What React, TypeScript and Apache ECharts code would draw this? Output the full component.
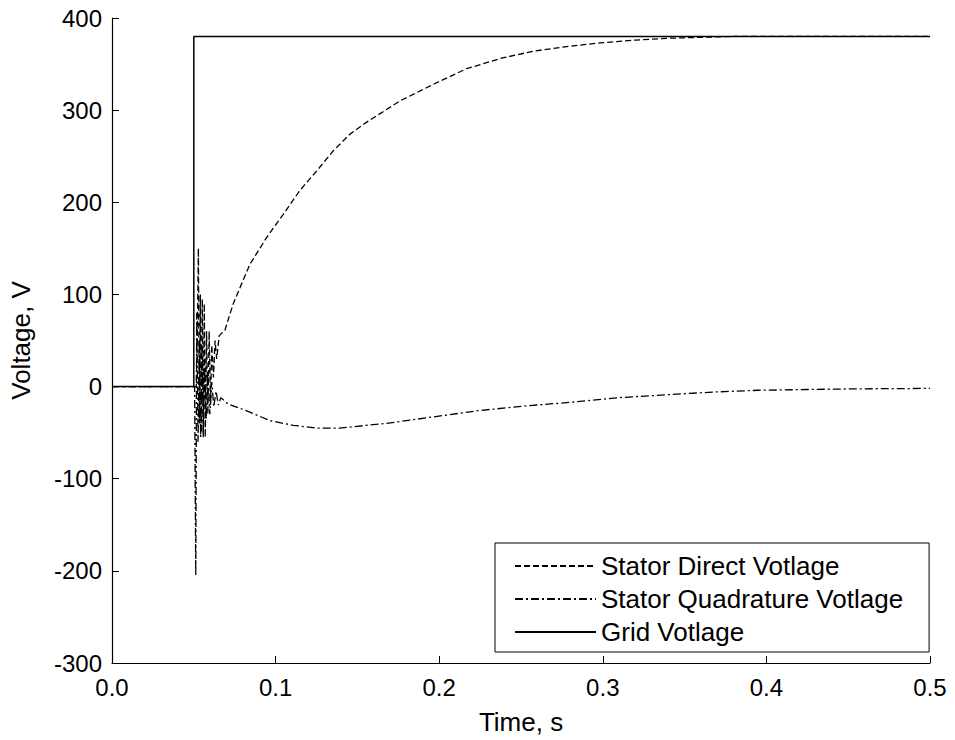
import React, { useEffect, useRef } from "react";
import * as echarts from "echarts";

const xTicks = [0, 0.1, 0.2, 0.3, 0.4, 0.5];
const yTicks = [-300, -200, -100, 0, 100, 200, 300, 400];

const directTime = [0, 0.05, 0.0515, 0.0522, 0.0528, 0.0534, 0.054, 0.0546, 0.0552, 0.0558, 0.0564, 0.057, 0.0578, 0.0586, 0.0594, 0.0602, 0.061, 0.062, 0.063, 0.064, 0.0655, 0.067, 0.069, 0.0741, 0.0844, 0.0946, 0.1047, 0.1149, 0.1251, 0.1353, 0.1455, 0.1557, 0.176, 0.1964, 0.2168, 0.2372, 0.2575, 0.2779, 0.2983, 0.32, 0.34, 0.36, 0.38, 0.4, 0.45, 0.5];
const directVolt = [0, 0, 0, 60, 150, -40, 100, -50, 95, -55, 90, -55, 60, -30, 60, -20, 45, 10, 50, 30, 55, 58, 61, 90, 133, 162, 187, 213, 234, 256, 274, 287, 310, 328, 345, 356, 364, 369, 373, 376, 378, 379, 380, 380, 380, 380];

const quadTime = [0, 0.0505, 0.0512, 0.0518, 0.0526, 0.0534, 0.0542, 0.055, 0.0558, 0.0566, 0.0576, 0.0586, 0.0598, 0.061, 0.0622, 0.0636, 0.065, 0.0665, 0.071, 0.082, 0.0965, 0.1107, 0.125, 0.139, 0.1676, 0.196, 0.2245, 0.253, 0.281, 0.31, 0.338, 0.367, 0.395, 0.452, 0.5];
const quadVolt = [0, 0, -205, 80, -60, 50, -55, 40, -50, 30, -35, 15, -30, 5, -22, -5, -20, -12, -19, -26, -37, -42, -45, -45, -40, -33, -26, -21, -17, -12, -9, -6, -4, -2.5, -2];

const gridTime = [0, 0.05, 0.05, 0.5];
const gridVolt = [0, 0, 380, 380];

const seriesNames = ["Stator Direct Votlage", "Stator Quadrature Votlage", "Grid Votlage"];

const zip = (t: number[], v: number[]) => t.map((x, i) => [x, v[i]]);

const FONT = "'Liberation Sans', Arial, sans-serif";

export default function App() {
  const ref = useRef<HTMLDivElement>(null);
  useEffect(() => {
    if (!ref.current) return;
    const chart = echarts.init(ref.current, null, { renderer: "svg" });
    chart.setOption({
      animation: false,
      backgroundColor: "#ffffff",
      grid: { left: 112, right: 25, top: 18, bottom: 77, containLabel: false },
      xAxis: {
        type: "value",
        min: xTicks[0],
        max: xTicks[xTicks.length - 1],
        interval: 0.1,
        name: "Time, s",
        nameLocation: "middle",
        nameGap: 46,
        nameTextStyle: { color: "#000", fontSize: 26, fontFamily: FONT },
        axisLine: { show: true, onZero: false, lineStyle: { color: "#000", width: 1.2 } },
        axisTick: { show: true, inside: true, length: 7, lineStyle: { color: "#000" } },
        axisLabel: { color: "#000", fontSize: 24, fontFamily: FONT, margin: 12, formatter: (v: number) => v.toFixed(1) },
        splitLine: { show: false },
      },
      yAxis: {
        type: "value",
        min: yTicks[0],
        max: yTicks[yTicks.length - 1],
        interval: 100,
        name: "Voltage, V",
        nameLocation: "middle",
        nameGap: 78,
        nameTextStyle: { color: "#000", fontSize: 26, fontFamily: FONT },
        axisLine: { show: true, onZero: false, lineStyle: { color: "#000", width: 1.2 } },
        axisTick: { show: true, inside: true, length: 7, lineStyle: { color: "#000" } },
        axisLabel: { color: "#000", fontSize: 24, fontFamily: FONT, margin: 10 },
        splitLine: { show: false },
      },
      legend: {
        orient: "vertical",
        left: 495,
        top: 543,
        itemWidth: 81,
        itemHeight: 26,
        itemGap: 7,
        padding: [10, 26, 7, 19],
        backgroundColor: "#fff",
        borderColor: "#000",
        borderWidth: 1,
        borderRadius: 0,
        itemStyle: { opacity: 0 },
        textStyle: { color: "#000", fontSize: 26, fontFamily: FONT, lineHeight: 26 },
        data: seriesNames,
      },
      series: [
        {
          name: seriesNames[0],
          type: "line",
          symbol: "none",
          data: zip(directTime, directVolt),
          lineStyle: { color: "#000", width: 1.3, type: [6, 3] },
          itemStyle: { color: "#000" },
        },
        {
          name: seriesNames[1],
          type: "line",
          symbol: "none",
          data: zip(quadTime, quadVolt),
          lineStyle: { color: "#000", width: 1.3, type: [8, 3, 2, 3] },
          itemStyle: { color: "#000" },
        },
        {
          name: seriesNames[2],
          type: "line",
          symbol: "none",
          data: zip(gridTime, gridVolt),
          lineStyle: { color: "#000", width: 1.5, type: "solid" },
          itemStyle: { color: "#000" },
        },
      ],
    });
    return () => chart.dispose();
  }, []);
  return <div ref={ref} style={{ width: 955, height: 740, position: "absolute", left: 0, top: 0 }} />;
}
